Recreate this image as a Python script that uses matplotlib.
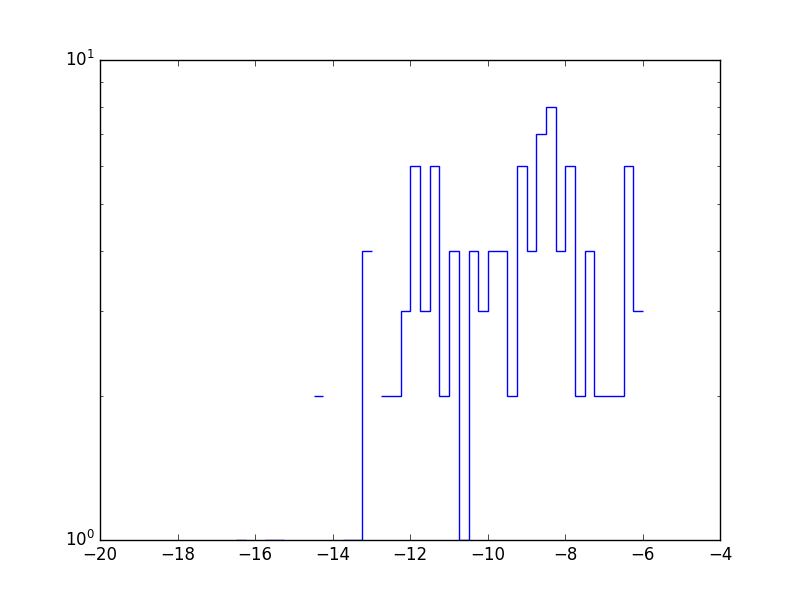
import numpy as np
import matplotlib
matplotlib.use('Agg')
import matplotlib.pyplot as plt

plt.style.use('classic')

# histogram counts per bin (0 = empty bin, not drawn on log axis)
counts = [1, 0, 0, 1, 1, 0, 0, 0, 2, 0,
          0, 1, 1, 4, 0, 2, 2, 3, 6, 3,
          6, 2, 4, 1, 4, 3, 4, 4, 2, 6,
          4, 7, 8, 4, 6, 2, 4, 2, 2, 2,
          6, 3]
bin_start = -16.49
bin_stop = -5.99

edges = np.linspace(bin_start, bin_stop, len(counts) + 1)
vals = np.array(counts, dtype=float)
vals[vals == 0] = np.nan  # empty bins leave gaps, like the old log step hist

fig, ax = plt.subplots(figsize=(8, 6), dpi=100)
ax.stairs(vals, edges, baseline=None, color='b', linewidth=1)

ax.set_yscale('log')
ax.set_xlim(-20, -4)
ax.set_ylim(1, 10)

plt.savefig('out.png', dpi=100, facecolor='white')
